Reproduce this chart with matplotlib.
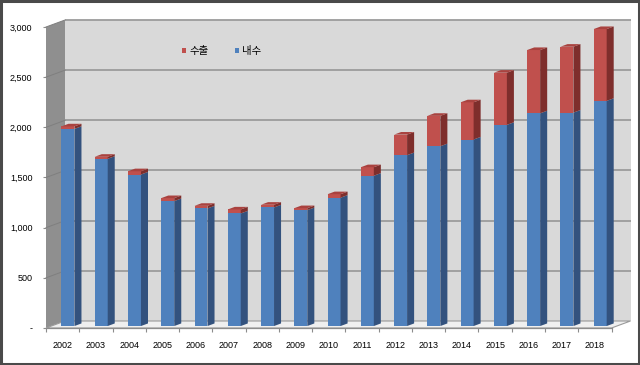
import matplotlib
matplotlib.use("Agg")
import matplotlib.pyplot as plt
from matplotlib.patches import Polygon, Patch, Rectangle
from matplotlib.collections import PolyCollection
from matplotlib.ticker import FixedLocator, FuncFormatter

years = ["2002", "2003", "2004", "2005", "2006", "2007", "2008", "2009", "2010",
         "2011", "2012", "2013", "2014", "2015", "2016", "2017", "2018"]
domestic = [1965, 1667, 1510, 1245, 1172, 1122, 1182, 1155, 1279,
            1498, 1703, 1792, 1859, 2005, 2120, 2127, 2244]
total = [1990, 1687, 1543, 1275, 1198, 1162, 1209, 1175, 1314,
         1583, 1908, 2095, 2230, 2525, 2751, 2784, 2960]
export = [t - d for t, d in zip(total, domestic)]
yticks = [0, 500, 1000, 1500, 2000, 2500, 3000]
legend_labels = ["수출", "내수"]

FONT = ["Liberation Sans", "Noto Sans CJK KR", "DejaVu Sans"]
plt.rcParams["font.family"] = FONT

W, H = 640, 365
fig = plt.figure(figsize=(W / 100, H / 100), dpi=100)
fig.patch.set_facecolor("white")
fig.patches.append(Rectangle((0.0015, 0.003), 0.997, 0.994, transform=fig.transFigure,
                             fill=False, edgecolor="#4a4a4a", linewidth=2.2))

ax = fig.add_axes([46 / W, 37 / H, 565.5 / W, 301 / H])
ax.set_xlim(-0.5, 16.5)
ax.set_ylim(0, 3000)
ax.patch.set_visible(False)
for s in ["left", "right", "top"]:
    ax.spines[s].set_visible(False)
ax.spines["bottom"].set_color("#8c8c8c")
ax.spines["bottom"].set_linewidth(0.9)

# depth offsets in data units (full depth)
DX = 19 / (565.5 / 17)      # category units
DV = 7 / (301 / 3000)       # value units
n = len(years)
x0, x1 = -0.5, 16.5
ymax = yticks[-1]

# left wall
ax.add_patch(Polygon([(x0, 0), (x0, ymax), (x0 + DX, ymax + DV), (x0 + DX, DV)],
                     closed=True, facecolor="#8f8f8f", edgecolor="none", clip_on=False, zorder=1))
# back wall
ax.add_patch(Polygon([(x0 + DX, DV), (x0 + DX, ymax + DV), (x1 + DX, ymax + DV), (x1 + DX, DV)],
                     closed=True, facecolor="#d9d9d9", edgecolor="none", clip_on=False, zorder=1))
# floor
ax.add_patch(Polygon([(x0, 0), (x0 + DX, DV), (x1 + DX, DV), (x1, 0)],
                     closed=True, facecolor="#efefef", edgecolor="#9a9a9a", linewidth=0.8,
                     clip_on=False, zorder=1.5))
# gridlines
for v in yticks[1:]:
    ax.plot([x0 + DX, x1 + DX], [v + DV, v + DV], color="#9c9c9c", lw=1.3,
            clip_on=False, zorder=2, solid_capstyle="butt")
    ax.plot([x0, x0 + DX], [v, v + DV], color="#7f7f7f", lw=0.7, clip_on=False, zorder=2)

# bars
fd = 0.28   # bar front depth
bd = 0.37   # bar depth
bw = 0.39
xs = list(range(n))
fx = [x + fd * DX for x in xs]
off_v = fd * DV
ddx, ddv = bd * DX, bd * DV

blue, blue_side, blue_top = "#4f81bd", "#33527e", "#4676ad"
red, red_side, red_top = "#c0504d", "#7e2e2c", "#a9423f"

ax.bar(fx, domestic, width=bw, bottom=[off_v] * n, color=blue, zorder=4, clip_on=False)
ax.bar(fx, export, width=bw, bottom=[d + off_v for d in domestic], color=red, zorder=4, clip_on=False)

side_b, side_r, tops = [], [], []
for xc, d, t in zip(fx, domestic, total):
    xr = xc + bw / 2
    xl = xc - bw / 2
    side_b.append([(xr, off_v), (xr + ddx, off_v + ddv), (xr + ddx, d + off_v + ddv), (xr, d + off_v)])
    side_r.append([(xr, d + off_v), (xr + ddx, d + off_v + ddv), (xr + ddx, t + off_v + ddv), (xr, t + off_v)])
    tops.append([(xl, t + off_v), (xr, t + off_v), (xr + ddx, t + off_v + ddv), (xl + ddx, t + off_v + ddv)])
ax.add_collection(PolyCollection(side_b, facecolors=blue_side, edgecolors="none", zorder=4, clip_on=False))
ax.add_collection(PolyCollection(side_r, facecolors=red_side, edgecolors="none", zorder=4, clip_on=False))
ax.add_collection(PolyCollection(tops, facecolors=red_top, edgecolors="none", zorder=4, clip_on=False))

# ticks
ax.xaxis.set_major_locator(FixedLocator(xs))
ax.set_xticklabels(years)
ax.xaxis.set_minor_locator(FixedLocator([i - 0.5 for i in range(n + 1)]))
ax.tick_params(axis="x", which="major", length=0, pad=9.5, labelsize=6.5, labelcolor="#000000")
ax.tick_params(axis="x", which="minor", length=3, color="#8c8c8c", width=0.8)
ax.yaxis.set_major_locator(FixedLocator(yticks))
ax.yaxis.set_major_formatter(FuncFormatter(lambda v, p: "-" if v == 0 else f"{int(v):,}"))
ax.tick_params(axis="y", length=2.2, color="#8c8c8c", width=0.8, pad=7.5, labelsize=6.5,
               labelcolor="#000000")
for lab in ax.get_xticklabels() + ax.get_yticklabels():
    lab.set_family(FONT)

# legend
handles = [Patch(facecolor=red, edgecolor="none"), Patch(facecolor=blue, edgecolor="none")]
leg = fig.legend(handles, legend_labels, ncol=2, loc="center left",
                 bbox_to_anchor=(182 / W, 1 - 51 / H), bbox_transform=fig.transFigure,
                 frameon=False,
                 prop={"family": ["Noto Sans CJK KR", "DejaVu Sans"], "size": 7.5, "weight": "medium"},
                 handlelength=0.42, handleheight=0.42, handletextpad=0.3,
                 columnspacing=2.5, borderpad=0, borderaxespad=0)

fig.savefig("out.png", dpi=100, facecolor="white")
